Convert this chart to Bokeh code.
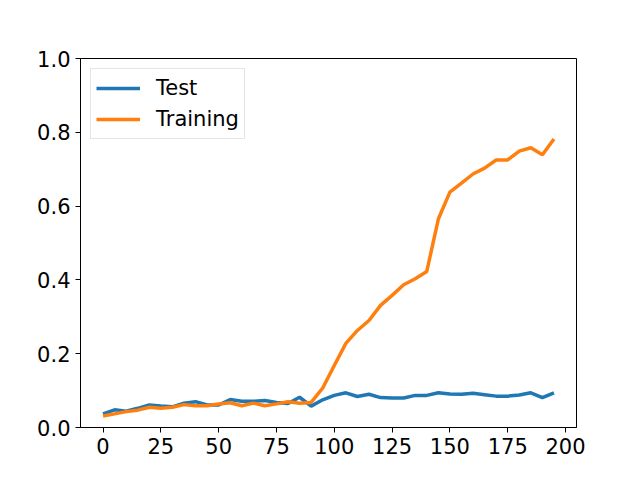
from bokeh.plotting import figure
from bokeh.models import Range1d, FixedTicker, Legend, LegendItem, NumeralTickFormatter
from bokeh.embed import file_html
from bokeh.resources import INLINE

epochs = list(range(0, 200, 5))
test_acc = [0.037, 0.048, 0.044, 0.052, 0.061, 0.058, 0.056, 0.066, 0.070, 0.061,
            0.061, 0.076, 0.071, 0.071, 0.073, 0.068, 0.065, 0.082, 0.058, 0.075,
            0.087, 0.094, 0.084, 0.090, 0.081, 0.080, 0.080, 0.087, 0.087, 0.094,
            0.091, 0.090, 0.093, 0.089, 0.085, 0.085, 0.088, 0.094, 0.081, 0.094]
train_acc = [0.031, 0.037, 0.043, 0.047, 0.055, 0.052, 0.055, 0.062, 0.059, 0.059,
             0.064, 0.067, 0.059, 0.066, 0.059, 0.064, 0.070, 0.066, 0.068, 0.107,
             0.168, 0.228, 0.263, 0.290, 0.331, 0.358, 0.387, 0.403, 0.423, 0.565,
             0.638, 0.662, 0.687, 0.703, 0.725, 0.725, 0.749, 0.758, 0.739, 0.782]
x_ticks = [0, 25, 50, 75, 100, 125, 150, 175, 200]
y_ticks = [0.0, 0.2, 0.4, 0.6, 0.8, 1.0]

p = figure(width=624, height=464, output_backend="svg", toolbar_location=None,
           x_range=Range1d(-9.75, 204.75), y_range=Range1d(0, 1),
           min_border_left=80, min_border_right=48, min_border_top=58, min_border_bottom=37)
p.background_fill_color = "white"
p.border_fill_color = "white"
p.outline_line_color = "black"
p.outline_line_width = 1
p.xgrid.visible = False
p.ygrid.visible = False

for ax in (p.xaxis[0], p.yaxis[0]):
    ax.major_label_text_font = "DejaVu Sans"
    ax.major_label_text_font_size = "21px"
    ax.major_label_text_color = "black"
    ax.major_tick_out = 5
    ax.major_tick_in = 0
    ax.minor_tick_out = 0
    ax.minor_tick_in = 0
    ax.major_label_standoff = 5
    ax.axis_line_color = "black"
    ax.major_tick_line_color = "black"

p.xaxis[0].ticker = FixedTicker(ticks=x_ticks)
p.yaxis[0].ticker = FixedTicker(ticks=y_ticks)
p.yaxis[0].formatter = NumeralTickFormatter(format="0.0")

r1 = p.line(epochs, test_acc, line_color="#1f77b4", line_width=3.5)
r2 = p.line(epochs, train_acc, line_color="#ff7f0e", line_width=3.5)

legend = Legend(items=[LegendItem(label="Test", renderers=[r1]),
                       LegendItem(label="Training", renderers=[r2])],
                location="top_left")
legend.label_text_font = "DejaVu Sans"
legend.label_text_font_size = "21px"
legend.label_text_color = "black"
legend.margin = 10
legend.padding = 5
legend.spacing = 3
legend.glyph_width = 44
legend.glyph_height = 28
legend.label_height = 28
legend.label_standoff = 16
legend.border_line_color = "#cccccc"
legend.border_line_width = 1
legend.background_fill_alpha = 0.8
p.add_layout(legend, "center")

open("out.html", "w").write(file_html(p, INLINE))
